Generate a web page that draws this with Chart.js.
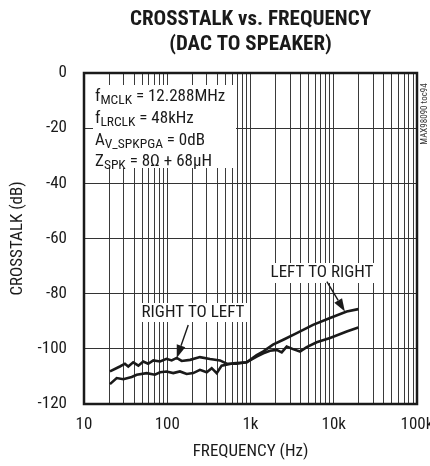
<!DOCTYPE html>
<html><head><meta charset="utf-8">
<script src="https://cdn.jsdelivr.net/npm/chart.js@4.4.1/dist/chart.umd.min.js"></script>
<style>html,body{margin:0;padding:0;background:#fff;}canvas{display:block;}</style>
</head><body>
<canvas id="c" width="430" height="466"></canvas>
<script>
// ---- data ----
const freqRightToLeft = [20.5, 27, 31, 34, 39, 45, 51.5, 59, 68, 82, 98, 113, 130, 149, 188, 247, 326, 430, 518, 682, 899, 1186, 1426, 1714, 2063, 2370, 2721, 3243, 3936, 4732, 6238, 9016, 14316, 19730];
const crosstalkRightToLeft = [-108.2, -106.4, -105.4, -106.4, -104.9, -106.1, -104.6, -105.4, -104.2, -104.6, -103.6, -104.2, -103.3, -104.4, -104.0, -103.0, -103.7, -104.2, -105.4, -105.4, -104.9, -102.8, -101.6, -100.7, -100.4, -101.3, -99.2, -100.1, -101.0, -99.4, -97.6, -96.1, -93.7, -92.3];
const freqLeftToRight = [20.5, 24.7, 29.7, 37.4, 43, 56.6, 71, 82, 98, 118, 142, 171, 205, 247, 298, 342, 393, 450, 621, 899, 1186, 1413, 1862, 2477, 3591, 5636, 9016, 14316, 19730];
const crosstalkLeftToRight = [-112.8, -110.6, -111.0, -110.2, -109.4, -108.8, -109.4, -108.5, -108.2, -108.8, -108.2, -109.1, -108.8, -107.6, -108.5, -107.0, -108.8, -106.1, -105.2, -104.9, -102.3, -101.0, -98.5, -96.7, -94.3, -91.3, -88.8, -86.5, -85.6];
const yTickValues = [0, -20, -40, -60, -80, -100, -120];
const xDecades = [10, 100, 1000, 10000];
const xMultipliers = [1, 2, 3, 4, 5, 6, 7, 8, 9];
const xTickLabels = {10: '10', 100: '100', 1000: '1k', 10000: '10k', 100000: '100k'};
const titleLines = ['CROSSTALK vs. FREQUENCY', '(DAC TO SPEAKER)'];

const gridFreqs = [];
xDecades.forEach(d => xMultipliers.forEach(m => gridFreqs.push(d * m)));
gridFreqs.push(100000);

const FONT = '"Roboto Condensed", "DejaVu Sans Condensed", sans-serif';
const INK = '#1a1a1a';

function drawArrow(ctx, x1, y1, x2, y2) {
  const ang = Math.atan2(y2 - y1, x2 - x1);
  const hl = 13, hw = 4.5;
  const bx = x2 - hl * Math.cos(ang), by = y2 - hl * Math.sin(ang);
  ctx.beginPath(); ctx.moveTo(x1, y1); ctx.lineTo(bx, by); ctx.lineWidth = 1.4; ctx.strokeStyle = INK; ctx.stroke();
  ctx.beginPath();
  ctx.moveTo(x2, y2);
  ctx.lineTo(bx + hw * Math.sin(ang), by - hw * Math.cos(ang));
  ctx.lineTo(bx - hw * Math.sin(ang), by + hw * Math.cos(ang));
  ctx.closePath(); ctx.fillStyle = INK; ctx.fill();
}

function subText(ctx, x, y, parts) {
  let cx = x;
  parts.forEach(([t, sub]) => {
    ctx.font = (sub ? '13.5px ' : '17px ') + FONT;
    ctx.fillText(t, cx, sub ? y + 3 : y);
    cx += ctx.measureText(t).width;
  });
}

const annot = {
  id: 'annot',
  beforeDatasetsDraw(chart) {
    const {ctx, chartArea: a} = chart;
    ctx.save();
    ctx.fillStyle = '#fff';
    ctx.fillRect(a.left + 9, a.top + 12, 143, 83);           // condition box
    ctx.fillRect(a.left + 185, a.top + 190, 107, 20);        // LEFT TO RIGHT
    ctx.fillRect(a.left + 55, a.top + 230, 110, 19);         // RIGHT TO LEFT
    ctx.restore();
  },
  afterDraw(chart) {
    const {ctx, chartArea: a, scales: {x, y}} = chart;
    ctx.save();
    ctx.lineWidth = 2.5; ctx.strokeStyle = INK;
    ctx.strokeRect(a.left, a.top, a.right - a.left, a.bottom - a.top);
    ctx.fillStyle = INK; ctx.textAlign = 'center'; ctx.textBaseline = 'middle';
    ctx.font = 'bold 21px ' + FONT;
    const cx = (a.left + a.right) / 2;
    ctx.fillText(titleLines[0], cx, 20);
    ctx.fillText(titleLines[1], cx, 45);
    ctx.textAlign = 'left'; ctx.textBaseline = 'alphabetic';
    const tx = a.left + 11;
    subText(ctx, tx, a.top + 28, [['f', 0], ['MCLK', 1], [' = 12.288MHz', 0]]);
    subText(ctx, tx, a.top + 50, [['f', 0], ['LRCLK', 1], [' = 48kHz', 0]]);
    subText(ctx, tx, a.top + 72, [['A', 0], ['V_SPKPGA', 1], [' = 0dB', 0]]);
    subText(ctx, tx, a.top + 93, [['Z', 0], ['SPK', 1], [' = 8\u03A9 + 68\u03BCH', 0]]);
    ctx.font = '17px ' + FONT; ctx.textAlign = 'center'; ctx.textBaseline = 'middle';
    ctx.fillText('LEFT TO RIGHT', a.left + 238, a.top + 200);
    ctx.fillText('RIGHT TO LEFT', a.left + 109, a.top + 240);
    const t1x = x.getPixelForValue(13600), t1y = y.getPixelForValue(-86.5);
    drawArrow(ctx, t1x - 18, t1y - 30, t1x, t1y);
    const t2x = x.getPixelForValue(130), t2y = y.getPixelForValue(-103.3);
    drawArrow(ctx, t2x + 11.5, t2y - 33, t2x, t2y);
    ctx.translate(425, 114); ctx.rotate(-Math.PI / 2);
    ctx.font = '9px ' + FONT; ctx.fillStyle = '#333';
    ctx.fillText('MAX98090 toc94', 0, 0);
    ctx.restore();
  }
};

const tickFont = {family: FONT, size: 17};
new Chart(document.getElementById('c').getContext('2d'), {
  type: 'line',
  data: {
    datasets: [
      {label: 'RIGHT TO LEFT', data: freqRightToLeft.map((f, i) => ({x: f, y: crosstalkRightToLeft[i]})),
       borderColor: INK, borderWidth: 2.6, pointRadius: 0, tension: 0, fill: false},
      {label: 'LEFT TO RIGHT', data: freqLeftToRight.map((f, i) => ({x: f, y: crosstalkLeftToRight[i]})),
       borderColor: INK, borderWidth: 2.6, pointRadius: 0, tension: 0, fill: false}
    ]
  },
  options: {
    responsive: false, animation: false, devicePixelRatio: 1,
    layout: {padding: {top: 73, right: 13, bottom: 0, left: 0}},
    plugins: {legend: {display: false}, tooltip: {enabled: false}, title: {display: false}},
    scales: {
      x: {
        type: 'logarithmic', min: 10, max: 100000,
        afterBuildTicks: s => { s.ticks = gridFreqs.map(v => ({value: v})); },
        afterFit: s => { s.height = 62; s.paddingLeft = 0; s.paddingRight = 0; },
        ticks: {autoSkip: false, maxRotation: 0, minRotation: 0, padding: 11, color: INK, font: tickFont,
                callback: v => xTickLabels[v] || ''},
        grid: {color: '#3a3a3a', lineWidth: 1, drawTicks: false},
        border: {display: false},
        title: {display: true, text: 'FREQUENCY (Hz)', color: INK, font: tickFont, padding: {top: 0, bottom: 3.8}}
      },
      y: {
        min: -120, max: 0,
        afterBuildTicks: s => { s.ticks = yTickValues.map(v => ({value: v})); },
        afterFit: s => { s.width = 84; s.paddingTop = 0; s.paddingBottom = 0; },
        ticks: {padding: 17, color: INK, font: tickFont},
        grid: {color: '#333', lineWidth: 1, drawTicks: false},
        border: {display: false},
        title: {display: true, text: 'CROSSTALK (dB)', color: INK, font: tickFont, padding: {top: 7.8, bottom: 0}}
      }
    }
  },
  plugins: [annot]
});
</script>
</body></html>
